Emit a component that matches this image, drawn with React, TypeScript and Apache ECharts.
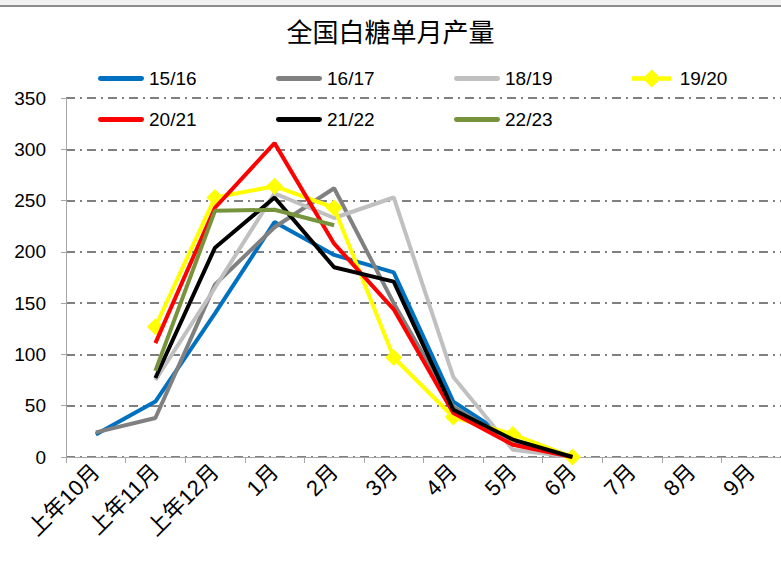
import React, { useEffect, useRef } from "react";
import * as echarts from "echarts";

const categories = ["上年10月", "上年11月", "上年12月", "1月", "2月", "3月", "4月", "5月", "6月", "7月", "8月", "9月"];
const yTicks = { min: 0, max: 350, interval: 50 };

const seriesNames = ["15/16", "16/17", "18/19", "19/20", "20/21", "21/22", "22/23"];
const seriesColors = ["#0070C0", "#808080", "#C0C0C0", "#FFFF00", "#FF0000", "#000000", "#77933C"];

const s1516 = [22, 54, 140, 229, 197, 180, 54, 16, 0, null, null, null];
const s1617 = [24, 38, 168, 224, 262, 150, 49, 14, 0, null, null, null];
const s1819 = [null, 75, 165, 257, 233, 253, 78, 7, 0, null, null, null];
const s1920 = [null, 127, 253, 264, 243, 97, 39, 22, 0, null, null, null];
const s2021 = [null, 111, 243, 306, 208, 144, 43, 12, 0, null, null, null];
const s2122 = [null, 77, 204, 253, 185, 171, 46, 17, 0, null, null, null];
const s2223 = [null, 84, 240, 241, 226, null, null, null, null, null, null, null];

const seriesData = [s1516, s1617, s1819, s1920, s2021, s2122, s2223];

const FONT = "'Liberation Sans Narrow', 'Liberation Sans', 'Noto Sans CJK SC', sans-serif";
const LINE_ICON = "path://M2,6 L44,6 A1.5,1.5 0 0 1 44,11 L2,11 A1.5,1.5 0 0 1 2,6 Z";
const DIAMOND_ICON = "path://M0,6 L15,6 L23,-2 L31,6 L46,6 L46,11 L31,11 L23,19 L15,11 L0,11 Z";

export default function App() {
  const ref = useRef<HTMLDivElement>(null);
  useEffect(() => {
    if (!ref.current) return;
    const chart = echarts.init(ref.current, undefined, { renderer: "svg" });
    const legendX = [93, 271, 449, 627];
    const legends = seriesNames.map((name, i) => ({
      show: true,
      left: legendX[i % 4],
      top: i < 4 ? 64 : 105,
      data: [{ name, icon: name === "19/20" ? DIAMOND_ICON : LINE_ICON }],
      itemWidth: 46,
      itemHeight: name === "19/20" ? 18 : 5,
      itemGap: 4,
      textStyle: { fontSize: 19, color: "#000", fontFamily: FONT },
    }));
    chart.setOption({
      animation: false,
      backgroundColor: "#ffffff",
      title: {
        text: "全国白糖单月产量",
        left: "center",
        top: 12,
        textStyle: { fontSize: 26, fontWeight: "normal", color: "#000", fontFamily: "'Noto Sans CJK SC', sans-serif" },
      },
      graphic: [
        { type: "rect", shape: { x: 0, y: 0, width: 781, height: 5 }, style: { fill: "#f2f2f2" }, silent: true },
        { type: "rect", shape: { x: 0, y: 5, width: 781, height: 2 }, style: { fill: "#8c8c8c" }, silent: true },
      ],
      legend: legends,
      grid: { left: 66, right: -1, top: 98, bottom: 118, containLabel: false },
      xAxis: {
        type: "category",
        data: categories,
        boundaryGap: true,
        axisLine: { lineStyle: { color: "#a6a6a6", width: 1 } },
        axisTick: { show: true, length: 6, lineStyle: { color: "#a6a6a6" } },
        axisLabel: { rotate: 45, fontSize: 22, color: "#000", fontFamily: FONT, margin: 11, interval: 0 },
      },
      yAxis: {
        type: "value",
        min: yTicks.min,
        max: yTicks.max,
        interval: yTicks.interval,
        axisLine: { show: true, lineStyle: { color: "#a6a6a6", width: 1 } },
        axisTick: { show: true, length: 5, lineStyle: { color: "#a6a6a6" } },
        axisLabel: { fontSize: 19, color: "#000", fontFamily: FONT, margin: 20 },
        splitLine: { show: true, lineStyle: { color: "#808080", width: 2, type: [9, 5, 2, 5] } },
      },
      series: seriesNames.map((name, i) => ({
        name,
        type: "line",
        data: seriesData[i],
        connectNulls: false,
        symbol: name === "19/20" ? "diamond" : "none",
        symbolSize: 17,
        showSymbol: name === "19/20",
        lineStyle: { color: seriesColors[i], width: 4 },
        itemStyle: { color: seriesColors[i] },
        z: 2 + i,
      })),
    });
    return () => chart.dispose();
  }, []);
  return <div ref={ref} style={{ position: "fixed", left: 0, top: 0, width: 781, height: 575 }} />;
}
